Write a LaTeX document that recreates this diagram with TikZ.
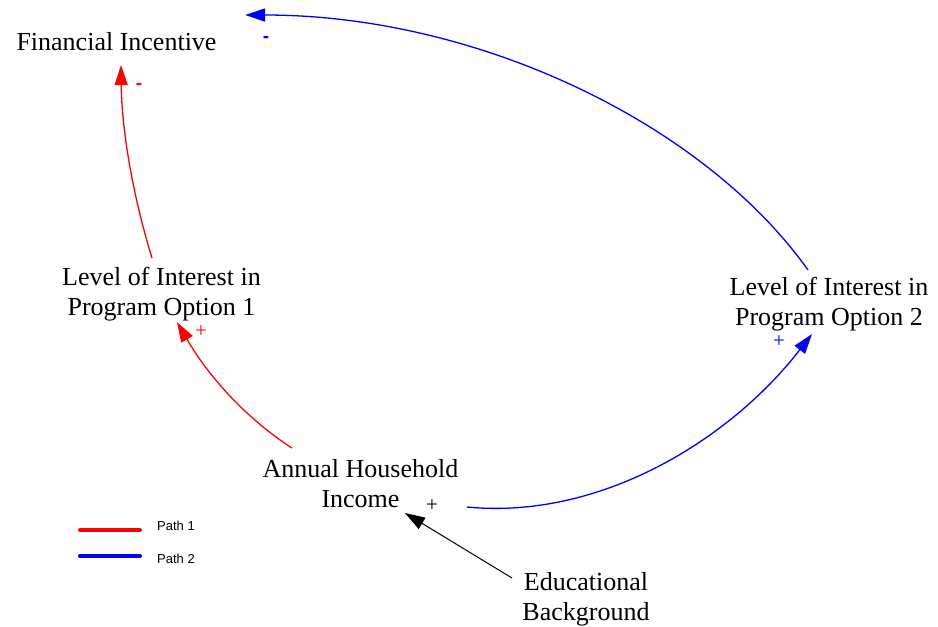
\documentclass[tikz,border=0pt]{standalone}
\usepackage{fontspec}
\setmainfont{Liberation Serif}
\newfontfamily\legendfont{Liberation Sans}
\usetikzlibrary{arrows.meta}
\definecolor{pathred}{RGB}{255,0,0}
\definecolor{pathblue}{RGB}{0,0,255}
\tikzset{
  varnode/.style={align=center, inner sep=0pt, font=\fontsize{26}{30}\selectfont},
  link/.style={line width=1.3pt, -{Triangle[length=20pt,width=13pt]}},
  minussign/.style={inner sep=0pt, font=\legendfont\bfseries\fontsize{19}{19}\selectfont},
  plussign/.style={inner sep=0pt, font=\fontsize{21}{21}\selectfont},
  legendline/.style={line width=4pt, line cap=round},
  legendtext/.style={anchor=west, inner sep=0pt, font=\legendfont\fontsize{13}{13}\selectfont}
}
\begin{document}
\begin{tikzpicture}[x=1pt,y=-1pt]
\useasboundingbox (0,0) rectangle (938,627);
% variables
\node[varnode, anchor=base] (fi) at (116.5,50) {Financial Incentive};
\node[varnode] (lo1) at (161.5,294) {Level of Interest in\\Program Option 1};
\node[varnode] (lo2) at (829,304) {Level of Interest in\\Program Option 2};
\node[varnode] (ahi) at (360.5,484) {Annual Household\\Income};
\node[varnode] (eb) at (586,599) {Educational\\Background};
% connector end points
\coordinate (r1s) at (152,258);
\coordinate (r1e) at (121,65);
\coordinate (r2s) at (292,448);
\coordinate (r2e) at (177,322);
\coordinate (b1s) at (808,270);
\coordinate (b1e) at (245,15);
\coordinate (b2s) at (467,507);
\coordinate (b2e) at (812,334);
\coordinate (ks) at (512,578);
\coordinate (ke) at (405,513);
% connectors
\draw[link, pathred] (r1s) .. controls (132,192.7) and (121.7,128.3) .. (r1e);
\draw[link, pathred] (r2s) .. controls (247.3,419.3) and (209,377.3) .. (r2e);
\draw[link, pathblue] (b1s) .. controls (705,125) and (480,15) .. (b1e);
\draw[link, pathblue] (b2s) .. controls (600,520) and (730,440) .. (b2e);
\draw[line width=1pt, -{Triangle[length=20pt,width=13pt]}] (ks) -- (ke);
% polarity signs
\node[minussign, pathred] (m1) at (139,86) {-};
\node[minussign, pathblue] (m2) at (266,39) {-};
\node[plussign, pathred] (p1) at (201,332) {+};
\node[plussign, pathblue] (p2) at (779,342) {+};
\node[plussign] (p3) at (432,506) {+};
% legend
\coordinate (l1a) at (80,530);
\coordinate (l1b) at (140,530);
\coordinate (l2a) at (80,556);
\coordinate (l2b) at (140,556);
\draw[legendline, pathred] (l1a) -- (l1b);
\draw[legendline, pathblue] (l2a) -- (l2b);
\node[legendtext] (t1) at (157,526) {Path 1};
\node[legendtext] (t2) at (157,559) {Path 2};
\end{tikzpicture}
\end{document}
